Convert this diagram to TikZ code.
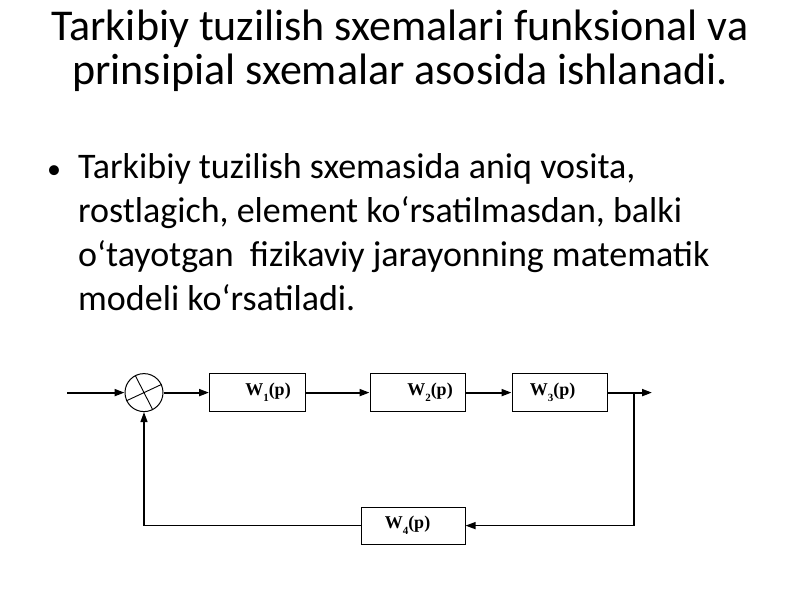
\documentclass[tikz,border=0pt]{standalone}
\usepackage{fontspec}
\setmainfont{Carlito}
\newfontfamily\blockfont{Liberation Serif}
\usetikzlibrary{arrows.meta,calc}
\newcommand{\wsub}[1]{\raisebox{-6pt}{\fontsize{11}{11}\selectfont #1}}
\begin{document}
\begin{tikzpicture}[x=1pt,y=1pt,
  titletext/.style={anchor=base,inner sep=0pt,font=\fontsize{44}{44}\selectfont},
  bodytext/.style={anchor=base west,inner sep=0pt,font=\fontsize{36}{44}\selectfont},
  block/.style={draw,line width=1pt,minimum width=96pt,minimum height=38pt,inner sep=0pt,
    font=\blockfont\bfseries\fontsize{18}{18}\selectfont},
  sumc/.style={draw,circle,line width=1pt,minimum size=38pt,inner sep=0pt},
  fwd/.style={line width=2pt,-{Triangle[length=10pt,width=7pt]}},
  fbarrow/.style={line width=1.4pt,-{Triangle[length=10pt,width=7pt]}}]
\useasboundingbox (0,-600) rectangle (800,0);
% title
\node[titletext] (t1) at (400,-40) {Tarkibiy tuzilish sxemalari funksional va};
\node[titletext] (t2) at (400,-84) {prinsipial sxemalar asosida ishlanadi.};
% bullet text
\node[anchor=base west,inner sep=0pt,font=\fontsize{28}{44}\selectfont] (bul) at (47,-178) {•};
\node[bodytext] (b1) at (78,-178) {Tarkibiy tuzilish sxemasida aniq vosita,};
\node[bodytext] (b2) at (78,-222) {rostlagich, element ko‘rsatilmasdan, balki};
\node[bodytext] (b3) at (78,-266) {o‘tayotgan\ \ fizikaviy jarayonning matematik};
\node[bodytext] (b4) at (78,-310) {modeli ko‘rsatiladi.};
% diagram
\coordinate (in) at (67,-392.6);
\node[sumc] (s) at (144,-392.6) {};
\draw[line width=0.9pt] (s.117) -- (s.297) (s.25) -- (s.205);
\node[block] (w1) at (257.5,-392.6) {\hspace*{21pt}W\wsub{1}(p)};
\node[block,minimum width=95pt] (w2) at (417.5,-392.6) {\hspace*{25pt}W\wsub{2}(p)};
\node[block,minimum width=95pt] (w3) at (559.5,-392.6) {W\wsub{3}(p)\hspace*{14pt}};
\node[block,minimum width=104pt,minimum height=37pt] (w4) at (413,-525.6) {W\wsub{4}(p)\hspace*{11pt}};
\coordinate (out) at (652,-392.6);
\coordinate (br) at (634,-392.6);
\coordinate (c1) at (634,-525.6);
\coordinate (c2) at (144,-525.6);
\draw[fwd] (in) -- (s.west);
\draw[fwd] (s.east) -- (w1.west);
\draw[fwd] (w1.east) -- (w2.west);
\draw[fwd] (w2.east) -- (w3.west);
\draw[fwd] (w3.east) -- (out);
\draw[fbarrow] (br) -- (c1) -- (w4.east);
\draw[fbarrow] (w4.west) -- (c2) -- (s.south);
\end{tikzpicture}
\end{document}
